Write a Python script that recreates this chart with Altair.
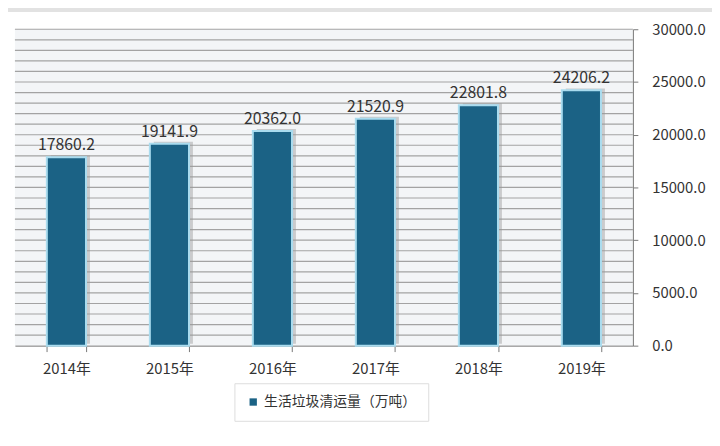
import altair as alt
import pandas as pd

years = ["2014年", "2015年", "2016年", "2017年", "2018年", "2019年"]
values = [17860.2, 19141.9, 20362.0, 21520.9, 22801.8, 24206.2]
series = "生活垃圾清运量（万吨）"

df = pd.DataFrame({"year": years, "value": values, "series": [series] * len(years)})

FONT = "Noto Sans CJK SC"
BAR = "#1b6285"

x = alt.X("year:N", sort=years, title=None,
          scale=alt.Scale(paddingInner=0.62, paddingOuter=0.31),
          axis=alt.Axis(labelAngle=0, labelFontSize=15, labelColor="#333333",
                        labelFont=FONT, labelPadding=10, tickBand="extent",
                        tickSize=6, tickColor="#777777", domainColor="#777777",
                        grid=False))
yaxis = alt.Axis(orient="right", values=list(range(0, 30001, 5000)),
                 format=".1f", labelFontSize=15, labelColor="#333333",
                 labelFont=FONT, labelPadding=14, tickSize=5,
                 tickColor="#777777", domainColor="#777777",
                 grid=False)
yscale = alt.Scale(domain=[0, 30000], nice=False)
y = alt.Y("value:Q", title=None, scale=yscale, axis=yaxis)

grid_vals = pd.DataFrame({"g": list(range(1000, 30001, 1000))})
grid = alt.Chart(grid_vals).mark_rule(color="#a3a3a3", strokeWidth=1.2).encode(
    y=alt.Y("g:Q", title=None, scale=yscale, axis=yaxis)
)

frame = alt.Chart(grid_vals).mark_rule(color="#e2e2e2", strokeWidth=9).encode(
    x=alt.value(-20), x2=alt.value(720), y=alt.value(-22)
)

shadow = alt.Chart(df).mark_bar(color="#9a9a9a", opacity=0.45, xOffset=4, yOffset=-2).encode(
    x=x, y=y
)

bars = alt.Chart(df).mark_bar(stroke="#a9dcef", strokeWidth=2).encode(
    x=x, y=y,
    color=alt.Color("series:N", scale=alt.Scale(domain=[series], range=[BAR]),
                    legend=alt.Legend(title=None, orient="none", legendX=222, legendY=358,
                                      symbolType="square", symbolSize=55,
                                      labelFontSize=14, labelFont=FONT, labelLimit=0,
                                      labelColor="#333333", fillColor="white",
                                      strokeColor="#dddddd", padding=12,
                                      symbolStrokeWidth=0))
)

labels = alt.Chart(df).mark_text(dy=-12, fontSize=16, font=FONT, color="#333333").encode(
    x=x, y=y, text=alt.Text("value:Q", format=".1f")
)

chart = alt.layer(frame, grid, shadow, bars, labels).properties(
    width=625, height=320,
    autosize=alt.AutoSizeParams(type="none"),
    padding={"left": 7, "top": 19, "right": 80, "bottom": 100},
    background="white",
).configure_view(fill="#f3f5f7", stroke=None)

chart.save("out.html", embed_options={"renderer": "svg", "actions": False})
